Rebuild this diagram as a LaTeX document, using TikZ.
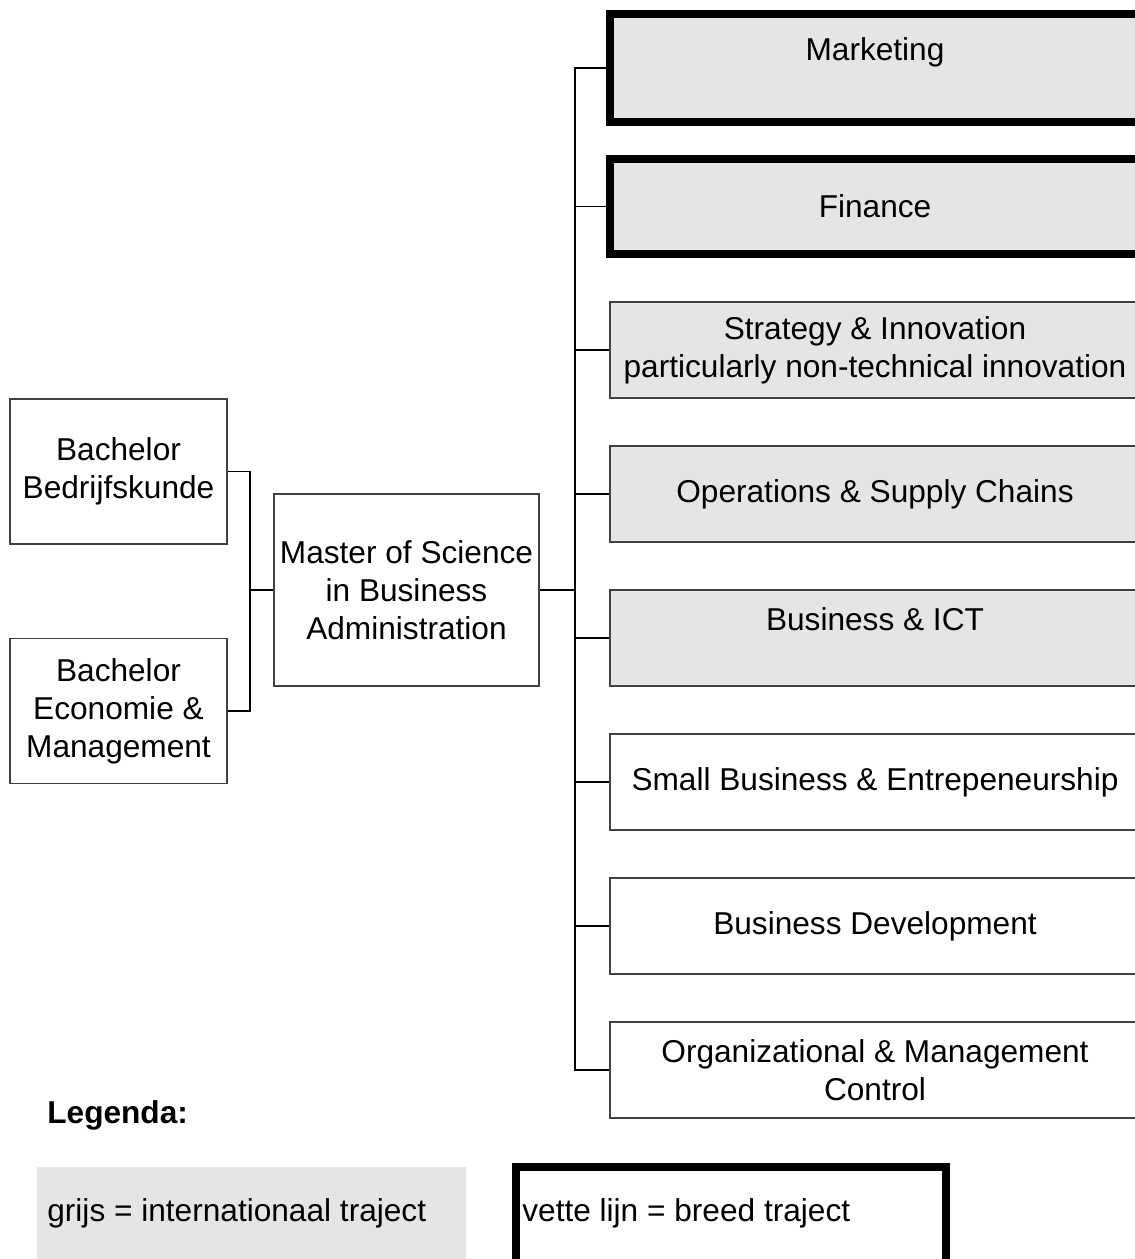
\documentclass[tikz,border=0pt]{standalone}
\usepackage{fontspec}
\setmainfont{Liberation Sans}
\usetikzlibrary{positioning}

\begin{document}
\begin{tikzpicture}[x=0.02cm, y=-0.02cm,
    box/.style={draw=black!75, line width=1.1pt, align=center, inner sep=0pt,
        font=\fontsize{18pt}{21.6pt}\selectfont},
    track/.style={box, minimum width=10.6cm, minimum height=1.92cm},
    grijs/.style={fill=gray!20},
    vet/.style={draw=black, line width=4.5pt},
    link/.style={draw=black, line width=0.6pt},
    legtext/.style={anchor=west, inner sep=0pt, font=\fontsize{18pt}{21.6pt}\selectfont}]
    \useasboundingbox (0,0) rectangle (1134,1259);

    % bachelors and master
    \node[box, minimum width=4.34cm, minimum height=2.9cm] (bbk) at (118.5,471.5) {Bachelor\\Bedrijfskunde};
    \node[box, minimum width=4.34cm, minimum height=2.9cm] (bem) at (118.5,711) {Bachelor\\Economie \&\\Management};
    \node[box, minimum width=5.3cm, minimum height=3.84cm] (msc) at (406.5,590) {Master of Science\\in Business\\Administration};

    % tracks
    \node[track, grijs, vet, minimum height=2.16cm] (mkt) at (875,68) {Marketing\\[-6pt] \strut};
    \node[track, grijs, vet, minimum height=1.9cm] (fin) at (875,206.5) {Finance};
    \node[track, grijs] (sin) at (875,350) {Strategy \& Innovation\\particularly non-technical innovation};
    \node[track, grijs] (osc) at (875,494) {Operations \& Supply Chains};
    \node[track, grijs] (ict) at (875,638) {Business \& ICT\\[-6pt] \strut};
    \node[track] (sbe) at (875,782) {Small Business \& Entrepeneurship};
    \node[track] (bdv) at (875,926) {Business Development};
    \node[track] (omc) at (875,1070) {Organizational \& Management\\Control};

    \coordinate (join) at (250,590);
    \coordinate (trunk) at (575,590);
    \draw[link] (bbk.east) -| (join) |- (bem.east);
    \draw[link] (join) -- (msc.west);
    \draw[link] (msc.east) -- (trunk);
    \foreach \t in {mkt,fin,sin,osc,ict,sbe,bdv,omc}
        \draw[link] (trunk) |- (\t.west);

    % legend
    \node[legtext, font=\fontsize{18pt}{21.6pt}\selectfont\bfseries] (leg) at (47,1115) {Legenda:};
    \fill[gray!20] (37,1167) rectangle (466,1290);
    \draw[vet] (516,1167) rectangle (946,1290);
    \node[legtext] (lgrijs) at (47,1213) {grijs = internationaal traject};
    \node[legtext] (lvet) at (522,1213) {vette lijn = breed traject};
\end{tikzpicture}
\end{document}
